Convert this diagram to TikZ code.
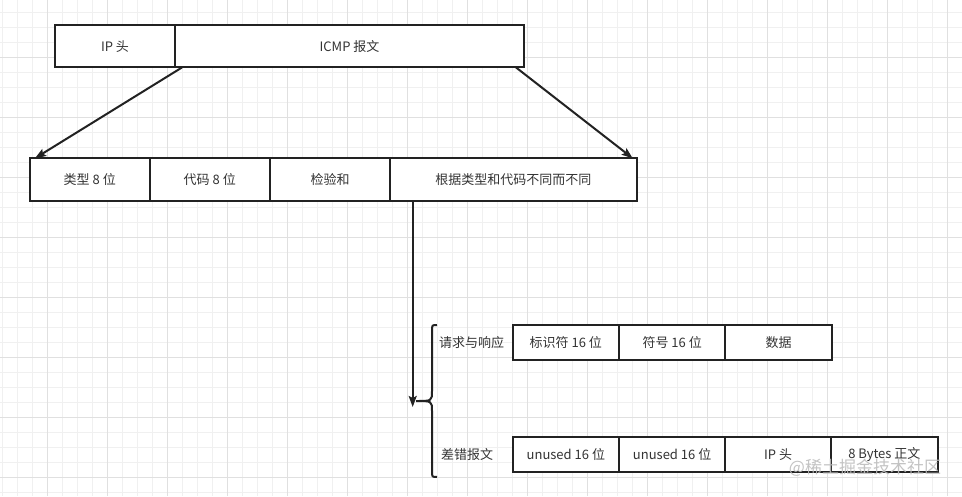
\documentclass[tikz,border=0pt]{standalone}
\usepackage{fontspec}
\setmainfont{Noto Sans CJK SC}
\usetikzlibrary{arrows.meta,calc}
\definecolor{edge}{HTML}{222222}
\definecolor{ink}{HTML}{333333}
\definecolor{minorgrid}{HTML}{F0F0F0}
\definecolor{majorgrid}{HTML}{E0E0E0}
\definecolor{mark}{HTML}{BDBDBD}
\begin{document}
\begin{tikzpicture}[x=1pt,y=-1pt,
  field/.style={draw=edge,line width=2pt,fill=white,inner sep=0pt,outer sep=0pt,
    text=ink,font=\fontsize{13}{15}\selectfont},
  wide/.style={field,minimum height=42.5},
  narrow/.style={field,minimum height=35,minimum width=106.3},
  tag/.style={anchor=west,inner sep=0pt,text=ink,font=\fontsize{13}{15}\selectfont},
  link/.style={draw=edge,line width=2pt,-{Stealth[length=11pt,width=8pt,inset=2pt]}}]
  \useasboundingbox (0,0) rectangle (962,496);
  % grid paper
  \fill[white] (0,0) rectangle (962,496);
  \foreach \x in {2.5,17.5,...,962} \draw[minorgrid,line width=0.8pt] (\x,0) -- (\x,496);
  \foreach \y in {12.5,27.5,...,496} \draw[minorgrid,line width=0.8pt] (0,\y) -- (962,\y);
  \foreach \x in {47.5,107.5,...,962} \draw[majorgrid,line width=0.8pt] (\x,0) -- (\x,496);
  \foreach \y in {57.5,117.5,...,496} \draw[majorgrid,line width=0.8pt] (0,\y) -- (962,\y);
  % ip packet
  \node[wide,minimum width=120] (iphead) at (115,46.2) {IP 头};
  \node[wide,minimum width=349] (icmp) at (349.5,46.2) {ICMP 报文};
  % icmp header
  \node[wide,minimum width=119.5] (type) at (89.75,179.5) {类型 8 位};
  \node[wide,minimum width=120.5] (code) at (209.75,179.5) {代码 8 位};
  \node[wide,minimum width=120] (csum) at (330,179.5) {检验和};
  \node[wide,minimum width=246.7] (rest) at (513.35,179.5) {根据类型和代码不同而不同};
  \draw[link] ($(icmp.south west)+(7,0)$) -- ($(type.north west)+(5,0)$);
  \draw[link] ($(icmp.south east)+(-8,0)$) -- ($(rest.north east)+(-4,0)$);
  % split into two kinds
  \coordinate (split) at (412.7,407);
  \draw[link] (rest.south west -| split) -- (split);
  \draw[edge,line width=2pt] (437,325) .. controls (432,325) .. (432,331) -- (432,391)
    .. controls (432,401) .. (416,401) .. controls (432,401) .. (432,411) -- (432,471)
    .. controls (432,477) .. (437,477);
  \node[tag] (query) at (439,343) {请求与响应};
  \node[tag] (fault) at (441,455) {差错报文};
  % request and reply
  \node[narrow] (ident) at (565.85,342.5) {标识符 16 位};
  \node[narrow] (seqno) at (672.15,342.5) {符号 16 位};
  \node[narrow] (data) at (778.5,342.5) {数据};
  % error message
  \node[narrow] (unusedA) at (565.85,454.5) {unused 16 位};
  \node[narrow] (unusedB) at (672.15,454.5) {unused 16 位};
  \node[narrow,minimum width=105.7] (iporig) at (778.15,454.5) {IP 头};
  \node[narrow] (body) at (884.35,454.5) {8 Bytes 正文};
  \node[text=mark,opacity=0.9,font=\fontsize{17}{19}\selectfont,inner sep=0pt] (stamp) at (865,468) {@稀土掘金技术社区};
\end{tikzpicture}
\end{document}
